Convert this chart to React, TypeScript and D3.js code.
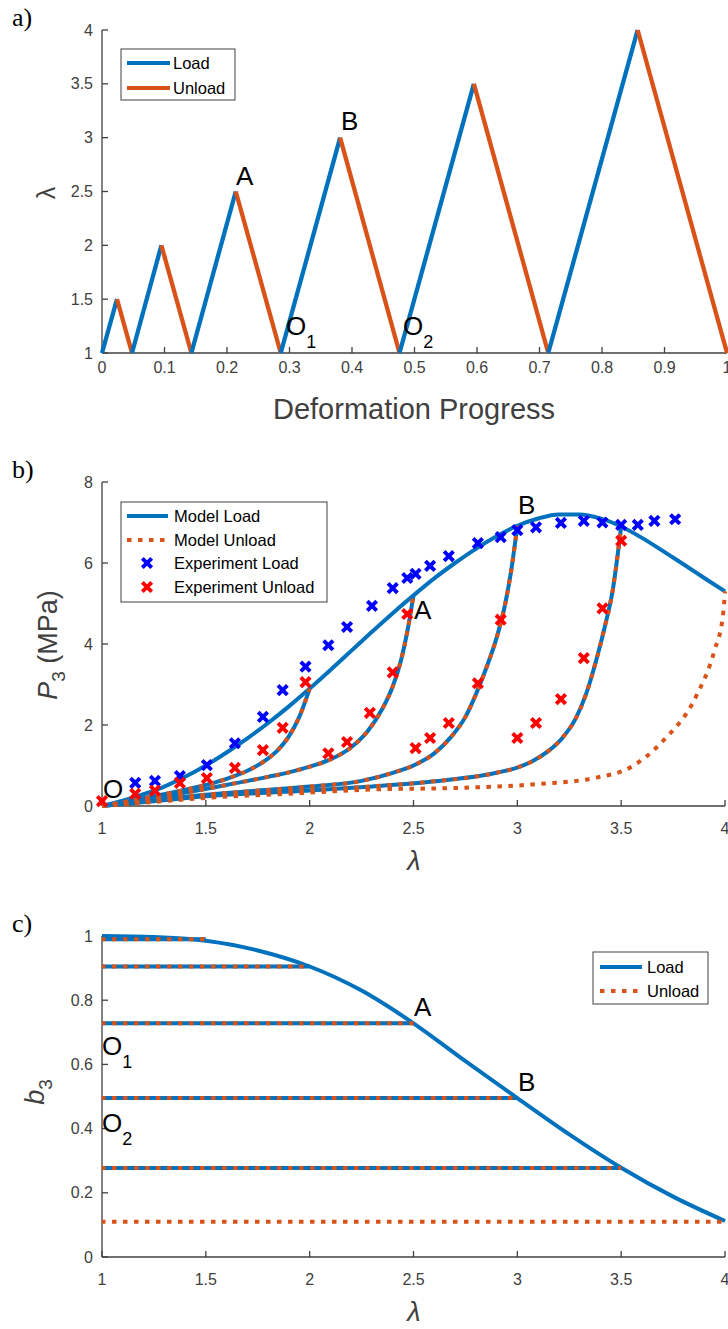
import React from "react";
import * as d3 from "d3";

// ---------- Panel a data ----------
const progressA = [0, 0.024, 0.048, 0.095, 0.143, 0.214, 0.286, 0.381, 0.476, 0.595, 0.714, 0.857, 1.0];
const lambdaA = [1, 1.5, 1, 2, 1, 2.5, 1, 3, 1, 3.5, 1, 4, 1];
const xTicksA = [0, 0.1, 0.2, 0.3, 0.4, 0.5, 0.6, 0.7, 0.8, 0.9, 1];
const yTicksA = [1, 1.5, 2, 2.5, 3, 3.5, 4];

// ---------- Panel b data ----------
const loadLamB = [1, 1.1, 1.2, 1.3, 1.4, 1.5, 1.6, 1.7, 1.8, 1.9, 2.0, 2.1, 2.2, 2.3, 2.4, 2.5, 2.6, 2.7, 2.8, 2.9, 3.0, 3.1, 3.2, 3.3, 3.4, 3.5, 3.6, 3.7, 3.8, 3.9, 4.0];
const loadPB = [0, 0.13, 0.29, 0.48, 0.72, 1.0, 1.32, 1.67, 2.05, 2.46, 2.9, 3.36, 3.83, 4.3, 4.76, 5.2, 5.62, 6.0, 6.35, 6.66, 6.92, 7.1, 7.2, 7.2, 7.1, 6.9, 6.62, 6.3, 5.97, 5.63, 5.3];

const unloadLam2 = [1, 1.2, 1.4, 1.5, 1.6, 1.7, 1.78, 1.85, 1.9, 1.95, 2.0];
const unloadP2 = [0, 0.19, 0.4, 0.52, 0.67, 0.87, 1.1, 1.4, 1.72, 2.2, 2.9];
const unloadLam25 = [1, 1.2, 1.4, 1.6, 1.8, 1.9, 2.0, 2.1, 2.2, 2.28, 2.35, 2.4, 2.44, 2.47, 2.5];
const unloadP25 = [0, 0.17, 0.33, 0.52, 0.72, 0.83, 0.97, 1.15, 1.45, 1.85, 2.4, 2.95, 3.6, 4.3, 5.2];
const unloadLam3 = [1, 1.25, 1.5, 1.75, 2.0, 2.25, 2.4, 2.5, 2.6, 2.68, 2.75, 2.8, 2.85, 2.9, 2.94, 2.97, 3.0];
const unloadP3 = [0, 0.15, 0.28, 0.38, 0.48, 0.62, 0.82, 1.0, 1.3, 1.7, 2.2, 2.75, 3.4, 4.15, 4.95, 5.8, 6.92];
const unloadLam35 = [1, 1.25, 1.5, 2.0, 2.26, 2.58, 2.9, 3.0, 3.07, 3.15, 3.22, 3.28, 3.33, 3.38, 3.42, 3.46, 3.5];
const unloadP35 = [0, 0.12, 0.24, 0.38, 0.47, 0.6, 0.82, 0.95, 1.1, 1.36, 1.7, 2.15, 2.75, 3.6, 4.4, 5.35, 6.9];
const unloadLam4 = [1, 1.25, 1.5, 2.0, 2.26, 2.74, 3.07, 3.38, 3.55, 3.7, 3.86, 3.95, 3.99, 4.0];
const unloadP4 = [0, 0.1, 0.2, 0.33, 0.4, 0.45, 0.53, 0.7, 0.97, 1.6, 2.7, 3.85, 4.7, 5.3];

const expLoadLam = [1.16, 1.255, 1.375, 1.505, 1.64, 1.775, 1.87, 1.98, 2.09, 2.18, 2.3, 2.4, 2.47, 2.51, 2.58, 2.67, 2.81, 2.92, 3.0, 3.09, 3.21, 3.32, 3.41, 3.5, 3.58, 3.66, 3.76];
const expLoadP = [0.57, 0.62, 0.74, 1.01, 1.55, 2.2, 2.86, 3.44, 3.97, 4.42, 4.94, 5.38, 5.63, 5.73, 5.93, 6.17, 6.49, 6.64, 6.81, 6.88, 6.99, 7.04, 7.0, 6.94, 6.94, 7.04, 7.08];
const expUnloadLam = [1.0, 1.16, 1.255, 1.375, 1.505, 1.64, 1.775, 1.87, 1.98, 2.09, 2.18, 2.29, 2.4, 2.47, 2.51, 2.58, 2.67, 2.81, 2.92, 3.0, 3.09, 3.21, 3.32, 3.41, 3.5];
const expUnloadP = [0.12, 0.3, 0.38, 0.57, 0.69, 0.94, 1.38, 1.93, 3.06, 1.3, 1.58, 2.3, 3.3, 4.74, 1.43, 1.68, 2.05, 3.03, 4.6, 1.68, 2.05, 2.64, 3.65, 4.88, 6.55];

const xTicksB = [1, 1.5, 2, 2.5, 3, 3.5, 4];
const yTicksB = [0, 2, 4, 6, 8];

// ---------- Panel c data ----------
const loadLamC = [1, 1.25, 1.5, 1.75, 2.0, 2.25, 2.5, 2.75, 3.0, 3.25, 3.5, 3.75, 4.0];
const loadB3C = [1, 0.997, 0.985, 0.955, 0.905, 0.83, 0.728, 0.61, 0.495, 0.382, 0.278, 0.188, 0.112];
const unloadPeakC = [1.5, 2, 2.5, 3, 3.5, 4];
const unloadB3C = [0.99, 0.905, 0.728, 0.495, 0.277, 0.11];
const xTicksC = [1, 1.5, 2, 2.5, 3, 3.5, 4];
const yTicksC = [0, 0.2, 0.4, 0.6, 0.8, 1];

const BLUE = "#0072BD";
const ORANGE = "#D95319";
const AX = "#404040";
const FONT = "'Liberation Sans', Arial, Helvetica, sans-serif";
const SERIF = "'Liberation Serif', 'Times New Roman', serif";
const DOT = "4.5 6.5";

function YAxis({ scale, ticks, x }: any) {
  const [r0, r1] = scale.range();
  return (
    <g>
      <line x1={x} x2={x} y1={r0} y2={r1} stroke={AX} strokeWidth={1.3} />
      {ticks.map((t: number) => (
        <g key={t}>
          <line x1={x} x2={x + 6} y1={scale(t)} y2={scale(t)} stroke={AX} strokeWidth={1.3} />
          <text x={x - 9} y={scale(t)} dy="0.35em" textAnchor="end" fontSize={16} fill={AX} fontFamily={FONT}>
            {String(t)}
          </text>
        </g>
      ))}
    </g>
  );
}

function XAxis({ scale, ticks, y, labelY }: any) {
  const [r0, r1] = scale.range();
  return (
    <g>
      <line x1={r0} x2={r1} y1={y} y2={y} stroke={AX} strokeWidth={1.3} />
      {ticks.map((t: number) => (
        <g key={t}>
          <line x1={scale(t)} x2={scale(t)} y1={y} y2={y - 6} stroke={AX} strokeWidth={1.3} />
          <text x={scale(t)} y={labelY} textAnchor="middle" fontSize={16} fill={AX} fontFamily={FONT}>
            {String(t)}
          </text>
        </g>
      ))}
    </g>
  );
}

function Cross({ x, y, color }: any) {
  const s = 4.7;
  return (
    <path d={`M${x - s},${y - s}L${x + s},${y + s}M${x - s},${y + s}L${x + s},${y - s}`} stroke={color} strokeWidth={3.9} fill="none" />
  );
}

function Label({ x, y, text, sub }: any) {
  return (
    <text x={x} y={y} fontSize={26} fill="#000" fontFamily={FONT}>
      {text}
      {sub ? (
        <tspan dy={13} fontSize={18}>
          {sub}
        </tspan>
      ) : null}
    </text>
  );
}

export default function App() {
  // Panel a
  const xA = d3.scaleLinear().domain([0, 1]).range([102, 727]);
  const yA = d3.scaleLinear().domain([1, 4]).range([353, 30]);
  const segsA = progressA.slice(0, -1).map((p, i) => ({
    x1: xA(p), y1: yA(lambdaA[i]), x2: xA(progressA[i + 1]), y2: yA(lambdaA[i + 1]),
    color: i % 2 === 0 ? BLUE : ORANGE,
  }));

  // Panel b
  const xB = d3.scaleLinear().domain([1, 4]).range([102, 725]);
  const yB = d3.scaleLinear().domain([0, 8]).range([806, 482]);
  const lineB = d3.line<[number, number]>().x((d) => xB(d[0])).y((d) => yB(d[1])).curve(d3.curveMonotoneX);
  const zip = (a: number[], b: number[]) => a.map((v, i) => [v, b[i]] as [number, number]);
  const loadPath = lineB(zip(loadLamB, loadPB)) as string;
  const unloadPaths = [
    zip(unloadLam2, unloadP2),
    zip(unloadLam25, unloadP25),
    zip(unloadLam3, unloadP3),
    zip(unloadLam35, unloadP35),
    zip(unloadLam4, unloadP4),
  ].map((d) => lineB(d) as string);

  // Panel c
  const xC = d3.scaleLinear().domain([1, 4]).range([102, 725]);
  const yC = d3.scaleLinear().domain([0, 1]).range([1257, 936]);
  const lineC = d3.line<[number, number]>().x((d) => xC(d[0])).y((d) => yC(d[1])).curve(d3.curveMonotoneX);
  const loadPathC = lineC(zip(loadLamC, loadB3C)) as string;

  return (
    <svg width={728} height={1329} style={{ position: "absolute", left: 0, top: 0, background: "#fff" }}>
      <rect x={0} y={0} width={728} height={1329} fill="#fff" />

      {/* ================= Panel a ================= */}
      <text x={12} y={26} fontSize={26} fontFamily={SERIF} fill="#000">a)</text>
      <YAxis scale={yA} ticks={yTicksA} x={102} />
      <XAxis scale={xA} ticks={xTicksA} y={353} labelY={373} />
      {segsA.map((s, i) => (
        <line key={i} x1={s.x1} y1={s.y1} x2={s.x2} y2={s.y2} stroke={s.color} strokeWidth={4.3} />
      ))}
      <text transform="translate(55,193) rotate(-90)" textAnchor="middle" fontSize={25} fill={AX} fontFamily={FONT}>λ</text>
      <text x={414} y={419} textAnchor="middle" fontSize={29} fill={AX} fontFamily={FONT}>Deformation Progress</text>
      <Label x={236} y={185} text="A" />
      <Label x={341} y={130} text="B" />
      <Label x={286} y={335} text="O" sub="1" />
      <Label x={403} y={335} text="O" sub="2" />
      {/* legend a */}
      <rect x={121} y={49} width={114} height={51} fill="#fff" stroke={AX} strokeWidth={1} />
      <line x1={127} x2={170} y1={63} y2={63} stroke={BLUE} strokeWidth={4} />
      <line x1={127} x2={170} y1={88} y2={88} stroke={ORANGE} strokeWidth={4} />
      <text x={173} y={69} fontSize={16.5} fontFamily={FONT} fill="#000">Load</text>
      <text x={173} y={94} fontSize={16.5} fontFamily={FONT} fill="#000">Unload</text>

      {/* ================= Panel b ================= */}
      <text x={12} y={478} fontSize={26} fontFamily={SERIF} fill="#000">b)</text>
      <YAxis scale={yB} ticks={yTicksB} x={102} />
      <XAxis scale={xB} ticks={xTicksB} y={806} labelY={834} />
      <path d={loadPath} fill="none" stroke={BLUE} strokeWidth={4} />
      {unloadPaths.slice(0, 4).map((p, i) => (
        <path key={"bu" + i} d={p} fill="none" stroke={BLUE} strokeWidth={4} />
      ))}
      {unloadPaths.map((p, i) => (
        <path key={"ou" + i} d={p} fill="none" stroke={ORANGE} strokeWidth={4} strokeDasharray={DOT} />
      ))}
      {expLoadLam.map((l, i) => (
        <Cross key={"el" + i} x={xB(l)} y={yB(expLoadP[i])} color="#0000FF" />
      ))}
      {expUnloadLam.map((l, i) => (
        <Cross key={"eu" + i} x={xB(l)} y={yB(expUnloadP[i])} color="#FF0000" />
      ))}
      <text transform="translate(57,645) rotate(-90)" textAnchor="middle" fontSize={27} fill={AX} fontFamily={FONT}>
        <tspan fontStyle="italic">P</tspan>
        <tspan dy={8} fontSize={19}>3</tspan>
        <tspan dy={-8}> (MPa)</tspan>
      </text>
      <text x={414} y={870} textAnchor="middle" fontSize={27} fontStyle="italic" fill={AX} fontFamily={FONT}>λ</text>
      <Label x={103} y={798} text="O" />
      <Label x={414} y={619} text="A" />
      <Label x={518} y={514} text="B" />
      {/* legend b */}
      <rect x={121} y={502} width={206} height={100} fill="#fff" stroke={AX} strokeWidth={1} />
      <line x1={127} x2={168} y1={516} y2={516} stroke={BLUE} strokeWidth={4} />
      <line x1={127} x2={168} y1={540} y2={540} stroke={ORANGE} strokeWidth={4} strokeDasharray={DOT} />
      <Cross x={147} y={563} color="#0000FF" />
      <Cross x={147} y={587} color="#FF0000" />
      <text x={174} y={522} fontSize={16.5} fontFamily={FONT} fill="#000">Model Load</text>
      <text x={174} y={546} fontSize={16.5} fontFamily={FONT} fill="#000">Model Unload</text>
      <text x={174} y={569} fontSize={16.5} fontFamily={FONT} fill="#000">Experiment Load</text>
      <text x={174} y={593} fontSize={16.5} fontFamily={FONT} fill="#000">Experiment Unload</text>

      {/* ================= Panel c ================= */}
      <text x={12} y={932} fontSize={26} fontFamily={SERIF} fill="#000">c)</text>
      <YAxis scale={yC} ticks={yTicksC} x={102} />
      <XAxis scale={xC} ticks={xTicksC} y={1257} labelY={1285} />
      <path d={loadPathC} fill="none" stroke={BLUE} strokeWidth={4} />
      {unloadPeakC.map((pk, i) =>
        i < unloadPeakC.length - 1 ? (
          <line key={"cb" + i} x1={xC(1)} x2={xC(pk)} y1={yC(unloadB3C[i])} y2={yC(unloadB3C[i])} stroke={BLUE} strokeWidth={4} />
        ) : null
      )}
      {unloadPeakC.map((pk, i) => (
        <line key={"co" + i} x1={xC(1)} x2={xC(pk)} y1={yC(unloadB3C[i])} y2={yC(unloadB3C[i])} stroke={ORANGE} strokeWidth={4} strokeDasharray={DOT} strokeDashoffset={-10} />
      ))}
      <text transform="translate(44,1092) rotate(-90)" textAnchor="middle" fontSize={27} fill={AX} fontFamily={FONT}>
        <tspan fontStyle="italic">b</tspan>
        <tspan dy={8} fontSize={19}>3</tspan>
      </text>
      <text x={414} y={1321} textAnchor="middle" fontSize={27} fontStyle="italic" fill={AX} fontFamily={FONT}>λ</text>
      <Label x={414} y={1016} text="A" />
      <Label x={518} y={1091} text="B" />
      <Label x={102} y={1055} text="O" sub="1" />
      <Label x={102} y={1132} text="O" sub="2" />
      {/* legend c */}
      <rect x={593} y={952} width={115} height={52} fill="#fff" stroke={AX} strokeWidth={1} />
      <line x1={600} x2={642} y1={967} y2={967} stroke={BLUE} strokeWidth={4} />
      <line x1={600} x2={642} y1={991} y2={991} stroke={ORANGE} strokeWidth={4} strokeDasharray={DOT} />
      <text x={647} y={973} fontSize={16.5} fontFamily={FONT} fill="#000">Load</text>
      <text x={647} y={997} fontSize={16.5} fontFamily={FONT} fill="#000">Unload</text>
    </svg>
  );
}
